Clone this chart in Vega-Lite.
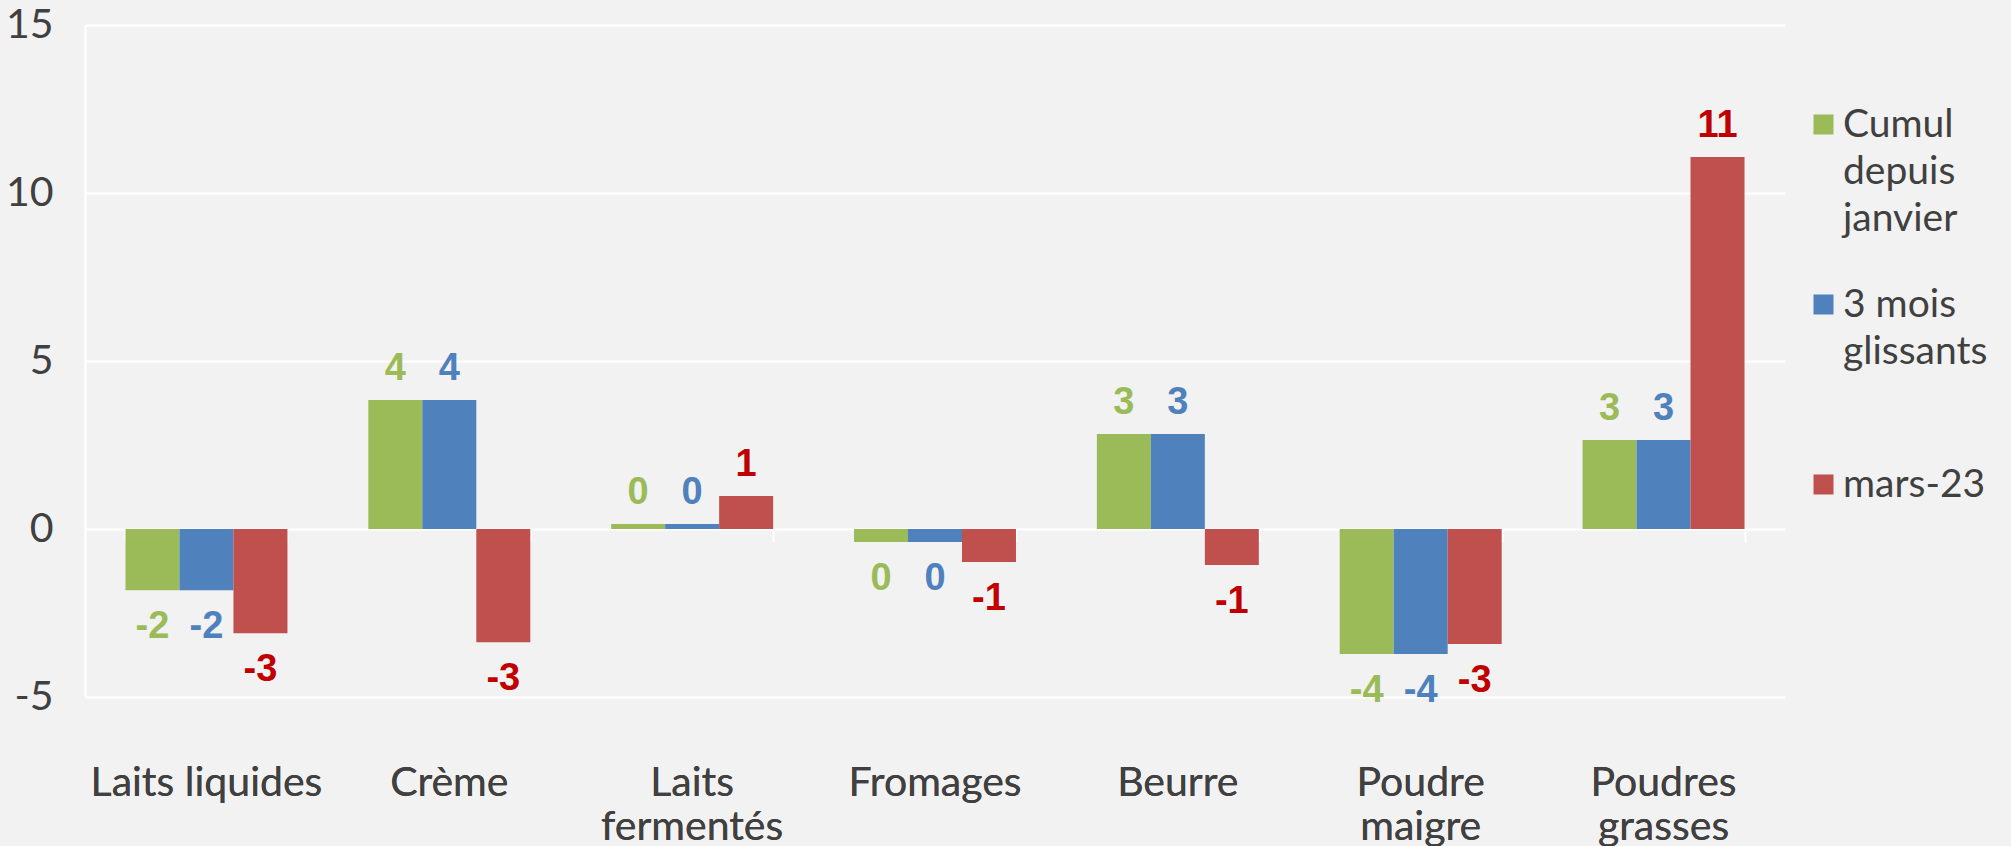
{
  "$schema": "https://vega.github.io/schema/vega-lite/v6.json",
  "width": 1700,
  "height": 672,
  "autosize": {"type": "none"},
  "padding": {"left": 85, "top": 25, "right": 226, "bottom": 149},
  "background": "#F2F2F2",
  "config": {
    "view": {"stroke": null},
    "font": "Lato",
    "style": {"guide-label": {"lineHeight": 47}}
  },
  "data": {
    "values": [
      {"cat": "Laits liquides", "series": "Cumul depuis janvier", "value": -1.82},
      {"cat": "Laits liquides", "series": "3 mois glissants", "value": -1.82},
      {"cat": "Laits liquides", "series": "mars-23", "value": -3.1},
      {"cat": "Crème", "series": "Cumul depuis janvier", "value": 3.84},
      {"cat": "Crème", "series": "3 mois glissants", "value": 3.84},
      {"cat": "Crème", "series": "mars-23", "value": -3.37},
      {"cat": "Laits fermentés", "series": "Cumul depuis janvier", "value": 0.15},
      {"cat": "Laits fermentés", "series": "3 mois glissants", "value": 0.15},
      {"cat": "Laits fermentés", "series": "mars-23", "value": 0.98},
      {"cat": "Fromages", "series": "Cumul depuis janvier", "value": -0.39},
      {"cat": "Fromages", "series": "3 mois glissants", "value": -0.39},
      {"cat": "Fromages", "series": "mars-23", "value": -0.98},
      {"cat": "Beurre", "series": "Cumul depuis janvier", "value": 2.83},
      {"cat": "Beurre", "series": "3 mois glissants", "value": 2.83},
      {"cat": "Beurre", "series": "mars-23", "value": -1.07},
      {"cat": "Poudre maigre", "series": "Cumul depuis janvier", "value": -3.72},
      {"cat": "Poudre maigre", "series": "3 mois glissants", "value": -3.72},
      {"cat": "Poudre maigre", "series": "mars-23", "value": -3.42},
      {"cat": "Poudres grasses", "series": "Cumul depuis janvier", "value": 2.65},
      {"cat": "Poudres grasses", "series": "3 mois glissants", "value": 2.65},
      {"cat": "Poudres grasses", "series": "mars-23", "value": 11.07}
    ]
  },
  "encoding": {
    "x": {
      "field": "cat",
      "type": "nominal",
      "sort": ["Laits liquides", "Crème", "Laits fermentés", "Fromages", "Beurre", "Poudre maigre", "Poudres grasses"],
      "scale": {"paddingInner": 0.333, "paddingOuter": 0.1667},
      "axis": {
        "title": null,
        "orient": "bottom",
        "domain": false,
        "ticks": false,
        "grid": false,
        "labelAngle": 0,
        "labelFont": "Lato",
        "labelFontSize": 41,
        "labelColor": "#404040",
        "labelPadding": 66,
        "labelLineHeight": 44,
        "labelLimit": 500,
        "labelOverlap": false,
        "labelExpr": "datum.label == 'Laits fermentés' ? ['Laits', 'fermentés'] : datum.label == 'Poudre maigre' ? ['Poudre', 'maigre'] : datum.label == 'Poudres grasses' ? ['Poudres', 'grasses'] : datum.label"
      }
    },
    "xOffset": {
      "field": "series",
      "type": "nominal",
      "sort": ["Cumul depuis janvier", "3 mois glissants", "mars-23"],
      "scale": {"paddingInner": 0, "paddingOuter": 0}
    },
    "y": {
      "field": "value",
      "type": "quantitative",
      "scale": {"domain": [-5, 15], "nice": false, "zero": false},
      "axis": {
        "title": null,
        "values": [-5, 0, 5, 10, 15],
        "labelExpr": "toString(datum.value)",
        "domain": true,
        "domainColor": "#FFFFFF",
        "domainWidth": 2,
        "ticks": false,
        "gridColor": "#FFFFFF",
        "gridWidth": 2,
        "gridOpacity": 1,
        "labelFont": "Lato",
        "labelFontSize": 41,
        "labelColor": "#404040",
        "labelPadding": 32
      }
    }
  },
  "layer": [
    {
      "mark": {"type": "bar"},
      "encoding": {
        "color": {
          "field": "series",
          "type": "nominal",
          "sort": ["Cumul depuis janvier", "3 mois glissants", "mars-23"],
          "scale": {"domain": ["Cumul depuis janvier", "3 mois glissants", "mars-23"], "range": ["#9BBB59", "#4F81BD", "#C0504D"]},
          "legend": {
            "orient": "none",
            "legendX": 1719,
            "legendY": 80,
            "title": null,
            "padding": 0,
            "symbolType": "square",
            "symbolSize": 400,
            "symbolStrokeWidth": 0,
            "labelFont": "Lato",
            "labelFontSize": 39,
            "labelColor": "#404040",
            "labelOffset": 0,
            "labelLimit": 400,
            "labelBaseline": "middle",
            "rowPadding": 46,
            "labelExpr": "datum.label == 'Cumul depuis janvier' ? ['Cumul', 'depuis', 'janvier'] : datum.label == '3 mois glissants' ? ['3 mois', 'glissants', ''] : datum.label"
          }
        }
      }
    },
    {
      "transform": [
        {"filter": "datum.value >= 0"},
        {"calculate": "toString(round(datum.value))", "as": "label"}
      ],
      "mark": {"type": "text", "dy": -31, "baseline": "middle", "font": "Liberation Sans", "fontWeight": "bold", "fontSize": 38},
      "encoding": {
        "x": {
          "field": "cat",
          "type": "nominal",
          "sort": ["Laits liquides", "Crème", "Laits fermentés", "Fromages", "Beurre", "Poudre maigre", "Poudres grasses"],
          "scale": {"paddingInner": 0.333, "paddingOuter": 0.1667},
          "axis": {
            "title": null,
            "orient": "top",
            "offset": -504,
            "domain": false,
            "labels": false,
            "grid": false,
            "ticks": true,
            "tickBand": "extent",
            "tickSize": -13,
            "tickColor": "#FFFFFF",
            "tickWidth": 2
          }
        },
        "text": {"field": "label", "type": "nominal"},
        "color": {
          "field": "series",
          "type": "nominal",
          "scale": {"domain": ["Cumul depuis janvier", "3 mois glissants", "mars-23"], "range": ["#9BBB59", "#4F81BD", "#C00000"]},
          "legend": null
        }
      }
    },
    {
      "transform": [
        {"filter": "datum.value < 0"},
        {"calculate": "toString(round(datum.value))", "as": "label"}
      ],
      "mark": {"type": "text", "dy": 37, "baseline": "middle", "font": "Liberation Sans", "fontWeight": "bold", "fontSize": 38},
      "encoding": {
        "text": {"field": "label", "type": "nominal"},
        "color": {
          "field": "series",
          "type": "nominal",
          "scale": {"domain": ["Cumul depuis janvier", "3 mois glissants", "mars-23"], "range": ["#9BBB59", "#4F81BD", "#C00000"]},
          "legend": null
        }
      }
    }
  ],
  "resolve": {"scale": {"color": "independent"}, "axis": {"x": "independent"}}
}
